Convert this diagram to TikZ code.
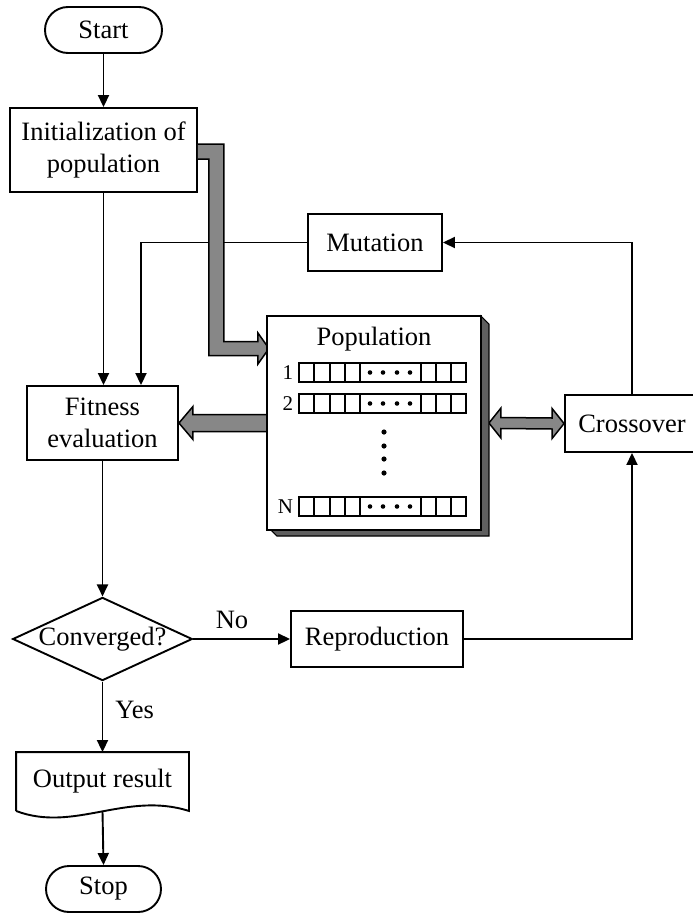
\documentclass[tikz,border=0pt]{standalone}
\usepackage{fontspec}
\setmainfont{Liberation Serif}
\usetikzlibrary{arrows.meta,shapes.geometric,calc}
\definecolor{gfill}{RGB}{135,135,135}
\definecolor{shadowc}{RGB}{95,95,95}
\begin{document}
\begin{tikzpicture}[x=1pt,y=-1pt,line width=1.9pt,
  txt/.style={font=\fontsize{26.5}{32}\selectfont},
  box/.style={txt,draw,rectangle,inner sep=0pt,align=center},
  term/.style={box,rounded corners=23pt,minimum width=117,minimum height=46},
  arr/.style={-{Triangle[length=12pt,width=11pt]}},
  garrow/.style={fill=gfill,draw=black,line width=1.5pt,line join=miter},
  cell/.style={line width=1.4pt},
  num/.style={font=\fontsize{21}{24}\selectfont,inner sep=0pt,anchor=east}
]
\useasboundingbox (0,0) rectangle (693,913);

% nodes
\node[term] (start) at (103.5,30) {Start};
\node[box,minimum width=187,minimum height=84] (init) at (103.5,150) {Initialization of\\population};
\node[box,minimum width=151,minimum height=74] (fit) at (102.5,423) {Fitness\\evaluation};
\node[box,minimum width=134,minimum height=57] (mut) at (375,242.5) {Mutation};
\node[box,minimum width=134,minimum height=57] (cross) at (632,423.5) {Crossover};
\node[box,minimum width=172,minimum height=56] (rep) at (377,639) {Reproduction};
\node[txt,diamond,draw,aspect=2.16,inner sep=0pt,minimum width=179,minimum height=83] (dia) at (102.5,639) {Converged?};
\node[txt,inner sep=0pt,minimum width=171,minimum height=57] (out) at (102.5,781.5) {Output result};
\draw (out.south west) -- (out.north west) -- (out.north east) -- (out.south east)
  .. controls ($(out.south east)+(-63,-20)$) and ($(out.south west)+(58,22)$) .. (out.south west);
\node[term,minimum width=115] (stop) at (103.5,889) {Stop};

% connectors
\draw[arr] (start) -- (init);
\draw[arr] (init.south) -- (init.south |- fit.north);
\draw[arr] (mut.west) -| ($(fit.north)+(38.5,0)$);
\draw[arr] (cross.north) |- (mut.east);
\draw[arr] (rep.east) -| (cross.south);
\draw[arr] (fit.south) -- (dia.north);
\draw[arr] (dia.east) -- node[txt,above=9pt,pos=0.4,inner sep=0pt] (no) {No} (rep.west);
\draw[arr] (dia.south) -- node[txt,right=12pt,pos=0.4,inner sep=0pt] (yes) {Yes} (out.north);
\draw[arr] (out.south) -- (stop.north);

% population block
\node[minimum width=212,minimum height=212,inner sep=0pt] (pop) at (374,423) {};
% gray arrow from init to population
\coordinate (ga) at ($(init.east)+(0,-6)$);
\draw[garrow] (ga) -- ++(26,0) -- ++(0,197.5) -- ++(34,0) -- ++(0,-8.5) -- ++(11,15.5)
  -- ++(-11,15.5) -- ++(0,-8.5) -- ++(-49,0) -- ++(0,-196.5) -- ++(-11,0);
% gray arrow population -> fitness
\draw[garrow] (fit.east) -- ++(14,-16.5) -- ++(0,8) -- ($(pop.west)+(0,-8.5)$)
  -- ($(pop.west)+(0,8.5)$) -- ($(fit.east)+(14,8.5)$) -- ++(0,8) -- cycle;
% double gray arrow population <-> crossover
\coordinate (da) at ($(pop.east)+(8,0)$);
\draw[garrow] (da) -- ++(12,-15) -- ++(0,9.5) -- ($(cross.west)+(-12,-5.5)$) -- ++(0,-9.5)
  -- (cross.west) -- ++(-12,15) -- ++(0,-9.5) -- ($(da)+(12,5.5)$) -- ++(0,9.5) -- cycle;
% shadow
\draw[fill=shadowc,line width=1.2pt] (pop.north east) -- ++(8,8) -- ++(0,212) -- ++(-212,0) -- ++(-8,-8)
  -- (pop.south east) -- cycle;
\draw[fill=white] (pop.north west) rectangle (pop.south east);
\node[txt,inner sep=0pt] (ptitle) at (374,339) {Population};

% rows
\foreach \yy/\lab/\nm in {363/1/ra,394/2/rb,497/N/rn}{
  \node[num] (\nm) at (294,\yy+9.5) {\lab};
  \draw[cell] (299,\yy) rectangle (466,\yy+19);
  \foreach \xx in {314,330,345,360,421,436,451}{
    \draw[cell] (\xx,\yy) -- (\xx,\yy+19);
  }
  \foreach \xx in {370,383,397,410}{
    \fill (\xx,\yy+9.5) circle (2.3);
  }
}
\foreach \yy in {432,446,459,473}{
  \fill (384,\yy) circle (2.6);
}
\end{tikzpicture}
\end{document}
